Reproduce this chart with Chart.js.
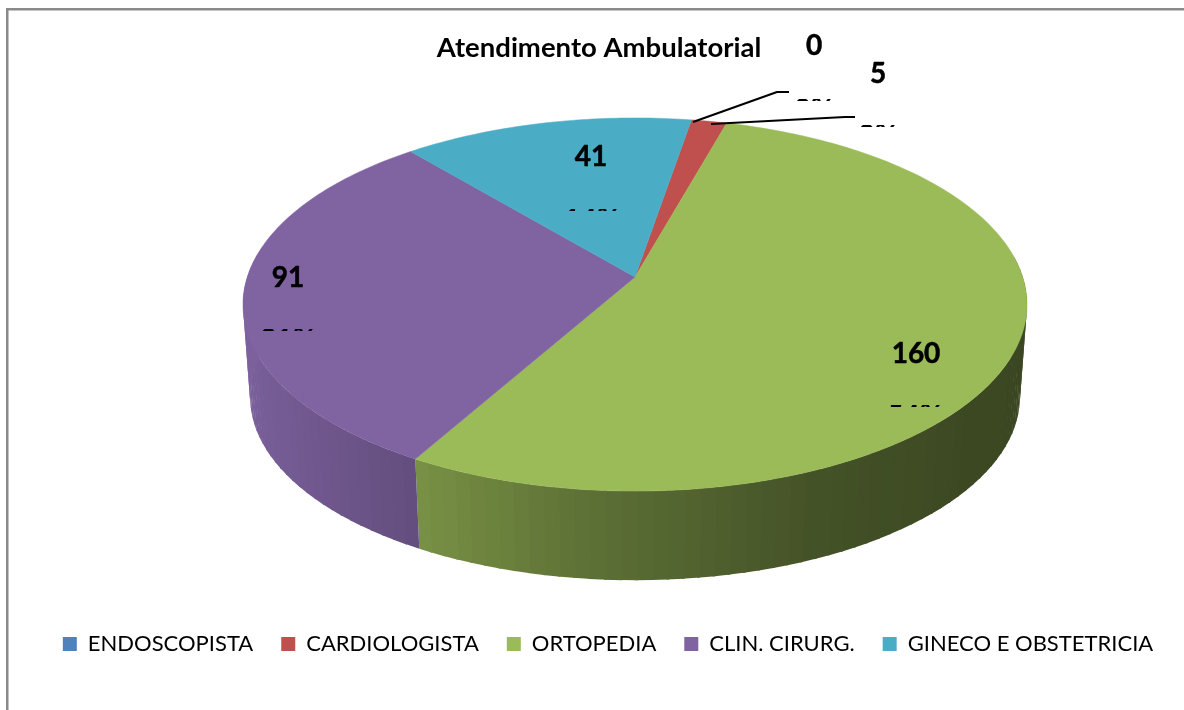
<!DOCTYPE html>
<html><head><meta charset="utf-8">
<style>html,body{margin:0;padding:0;background:#fff}canvas{display:block}</style>
<script src="https://cdn.jsdelivr.net/npm/chart.js@4/dist/chart.umd.js"></script>
</head><body>
<div style="width:1184px;height:710px"><canvas id="c" width="1184" height="710"></canvas></div>
<script>
const categories = ['ENDOSCOPISTA','CARDIOLOGISTA','ORTOPEDIA','CLIN. CIRURG.','GINECO E OBSTETRICIA'];
const values = [0,5,160,91,41];
const colors = ['#4f81bd','#c0504d','#9bbb59','#8064a2','#4bacc6'];
const chartTitle = 'Atendimento Ambulatorial';

// view of the disk (style only)
const V = {cx:635, apexY:277, a:387.7, b:182.5, p:0.1475, s:0.982, baseY:370};
// label placement (style only), per category index
const LAB = [
 {x:814,y:45.5,px:814,py:99},
 {x:878,y:73.5,px:878,py:125},
 {x:916,y:353.5,px:915,py:405},
 {x:288,y:278,px:288,py:329},
 {x:591,y:157,px:592,py:209}
];
const LEADERS = [
 {i:0,pts:[[693,122],[777,92],[789,92]]},
 {i:1,pts:[[711,124],[845,117],[855,117]]}
];
const pr=(phi,base)=>{
  const u=Math.cos(phi),v=-Math.sin(phi),w=1+V.p*v,k=base?V.s:1;
  return [V.cx+V.a*k*u/w,(base?V.baseY:V.apexY)-V.b*k*v/w];
};
const shadeStops=[[-1,.97],[-.5,.78],[-.1,.60],[.4,.44],[.8,.385],[1,.38]];
function shade(u){
  for(let i=1;i<shadeStops.length;i++){
    if(u<=shadeStops[i][0]){
      const [a,fa]=shadeStops[i-1],[b,fb]=shadeStops[i];
      return fa+(fb-fa)*(u-a)/(b-a);
    }
  }
  return .38;
}
function dim(hex,f){
  const n=parseInt(hex.slice(1),16);
  return `rgb(${Math.round((n>>16)*f)},${Math.round(((n>>8)&255)*f)},${Math.round((n&255)*f)})`;
}
const pie3d={
  id:'pie3d',
  afterLayout(chart){
    // the title sits a little left of the legend's centre
    if(chart.titleBlock){chart.titleBlock.left-=18;}
  },
  beforeDraw(chart){
    const c=chart.ctx;c.save();c.fillStyle='#8a8a8a';
    c.fillRect(6,8,1178,2.5);c.fillRect(6,8,2.5,702);c.restore();
  },
  beforeDatasetDraw(chart,args){
    const c=chart.ctx,arcs=args.meta.data,step=Math.PI/90,lap=Math.PI/500;
    c.save();
    arcs.forEach((arc,i)=>{
      if(arc.endAngle-arc.startAngle<=0)return;
      const n=Math.max(1,Math.ceil((arc.endAngle-arc.startAngle)/step));
      for(let k=0;k<n;k++){
        const a1=arc.startAngle+(arc.endAngle-arc.startAngle)*k/n,
              a2=arc.startAngle+(arc.endAngle-arc.startAngle)*(k+1)/n,m=(a1+a2)/2,
              a3=k<n-1?a2+lap:a2;
        if(-Math.sin(m)>0.12)continue;
        const A=pr(a1),B=pr(a3),C=pr(a3,1),D=pr(a1,1);
        c.beginPath();c.moveTo(A[0],A[1]);c.lineTo(B[0],B[1]);
        c.lineTo(C[0],C[1]);c.lineTo(D[0],D[1]);c.closePath();
        c.fillStyle=dim(colors[i],shade(Math.cos(m)));c.fill();
      }
    });
    arcs.forEach((arc,i)=>{
      if(arc.endAngle-arc.startAngle<=0)return;
      c.beginPath();c.moveTo(V.cx,V.apexY);
      const n=Math.max(4,Math.ceil((arc.endAngle-arc.startAngle)/(Math.PI/180)));
      for(let k=0;k<=n;k++){
        const P=pr(arc.startAngle+(arc.endAngle-arc.startAngle)*k/n);c.lineTo(P[0],P[1]);
      }
      c.closePath();c.fillStyle=colors[i];c.strokeStyle=colors[i];c.lineWidth=.5;c.fill();c.stroke();
    });
    c.restore();
    return false;
  },
  afterDatasetsDraw(chart){
    const c=chart.ctx,total=values.reduce((s,v)=>s+v,0);
    c.save();
    c.strokeStyle='#000';c.lineWidth=2;c.lineJoin='round';
    LEADERS.forEach(l=>{c.beginPath();l.pts.forEach((p,j)=>j?c.lineTo(p[0],p[1]):c.moveTo(p[0],p[1]));c.stroke();});
    c.fillStyle='#000';c.textAlign='center';c.font='bold 28px Lato';c.lineWidth=.5;
    values.forEach((v,i)=>{
      const L=LAB[i];
      c.textBaseline='middle';c.fillText(String(v),L.x,L.y);c.strokeText(String(v),L.x,L.y);
      c.save();c.beginPath();c.rect(L.px-50,L.py,100,2);c.clip();
      c.textBaseline='alphabetic';c.fillText(Math.round(v/total*100)+'%',L.px,L.py+20);
      c.restore();
    });
    c.restore();
  }
};
new Chart(document.getElementById('c'),{
  type:'pie',
  data:{labels:categories,datasets:[{data:values,backgroundColor:colors,borderWidth:0}]},
  plugins:[pie3d],
  options:{
    responsive:false,animation:false,
    rotation:9.6,
    layout:{padding:{left:32,right:0,top:17,bottom:45}},
    plugins:{
      tooltip:{enabled:false},
      title:{display:true,text:chartTitle,color:'#000',font:{family:'Lato',size:27.5,weight:'bold'},padding:{top:15,bottom:10}},
      legend:{position:'bottom',align:'center',
        labels:{color:'#000',font:{family:'Lato',size:22},boxWidth:14,boxHeight:14,padding:28}}
    }
  }
});
</script>
</body></html>
